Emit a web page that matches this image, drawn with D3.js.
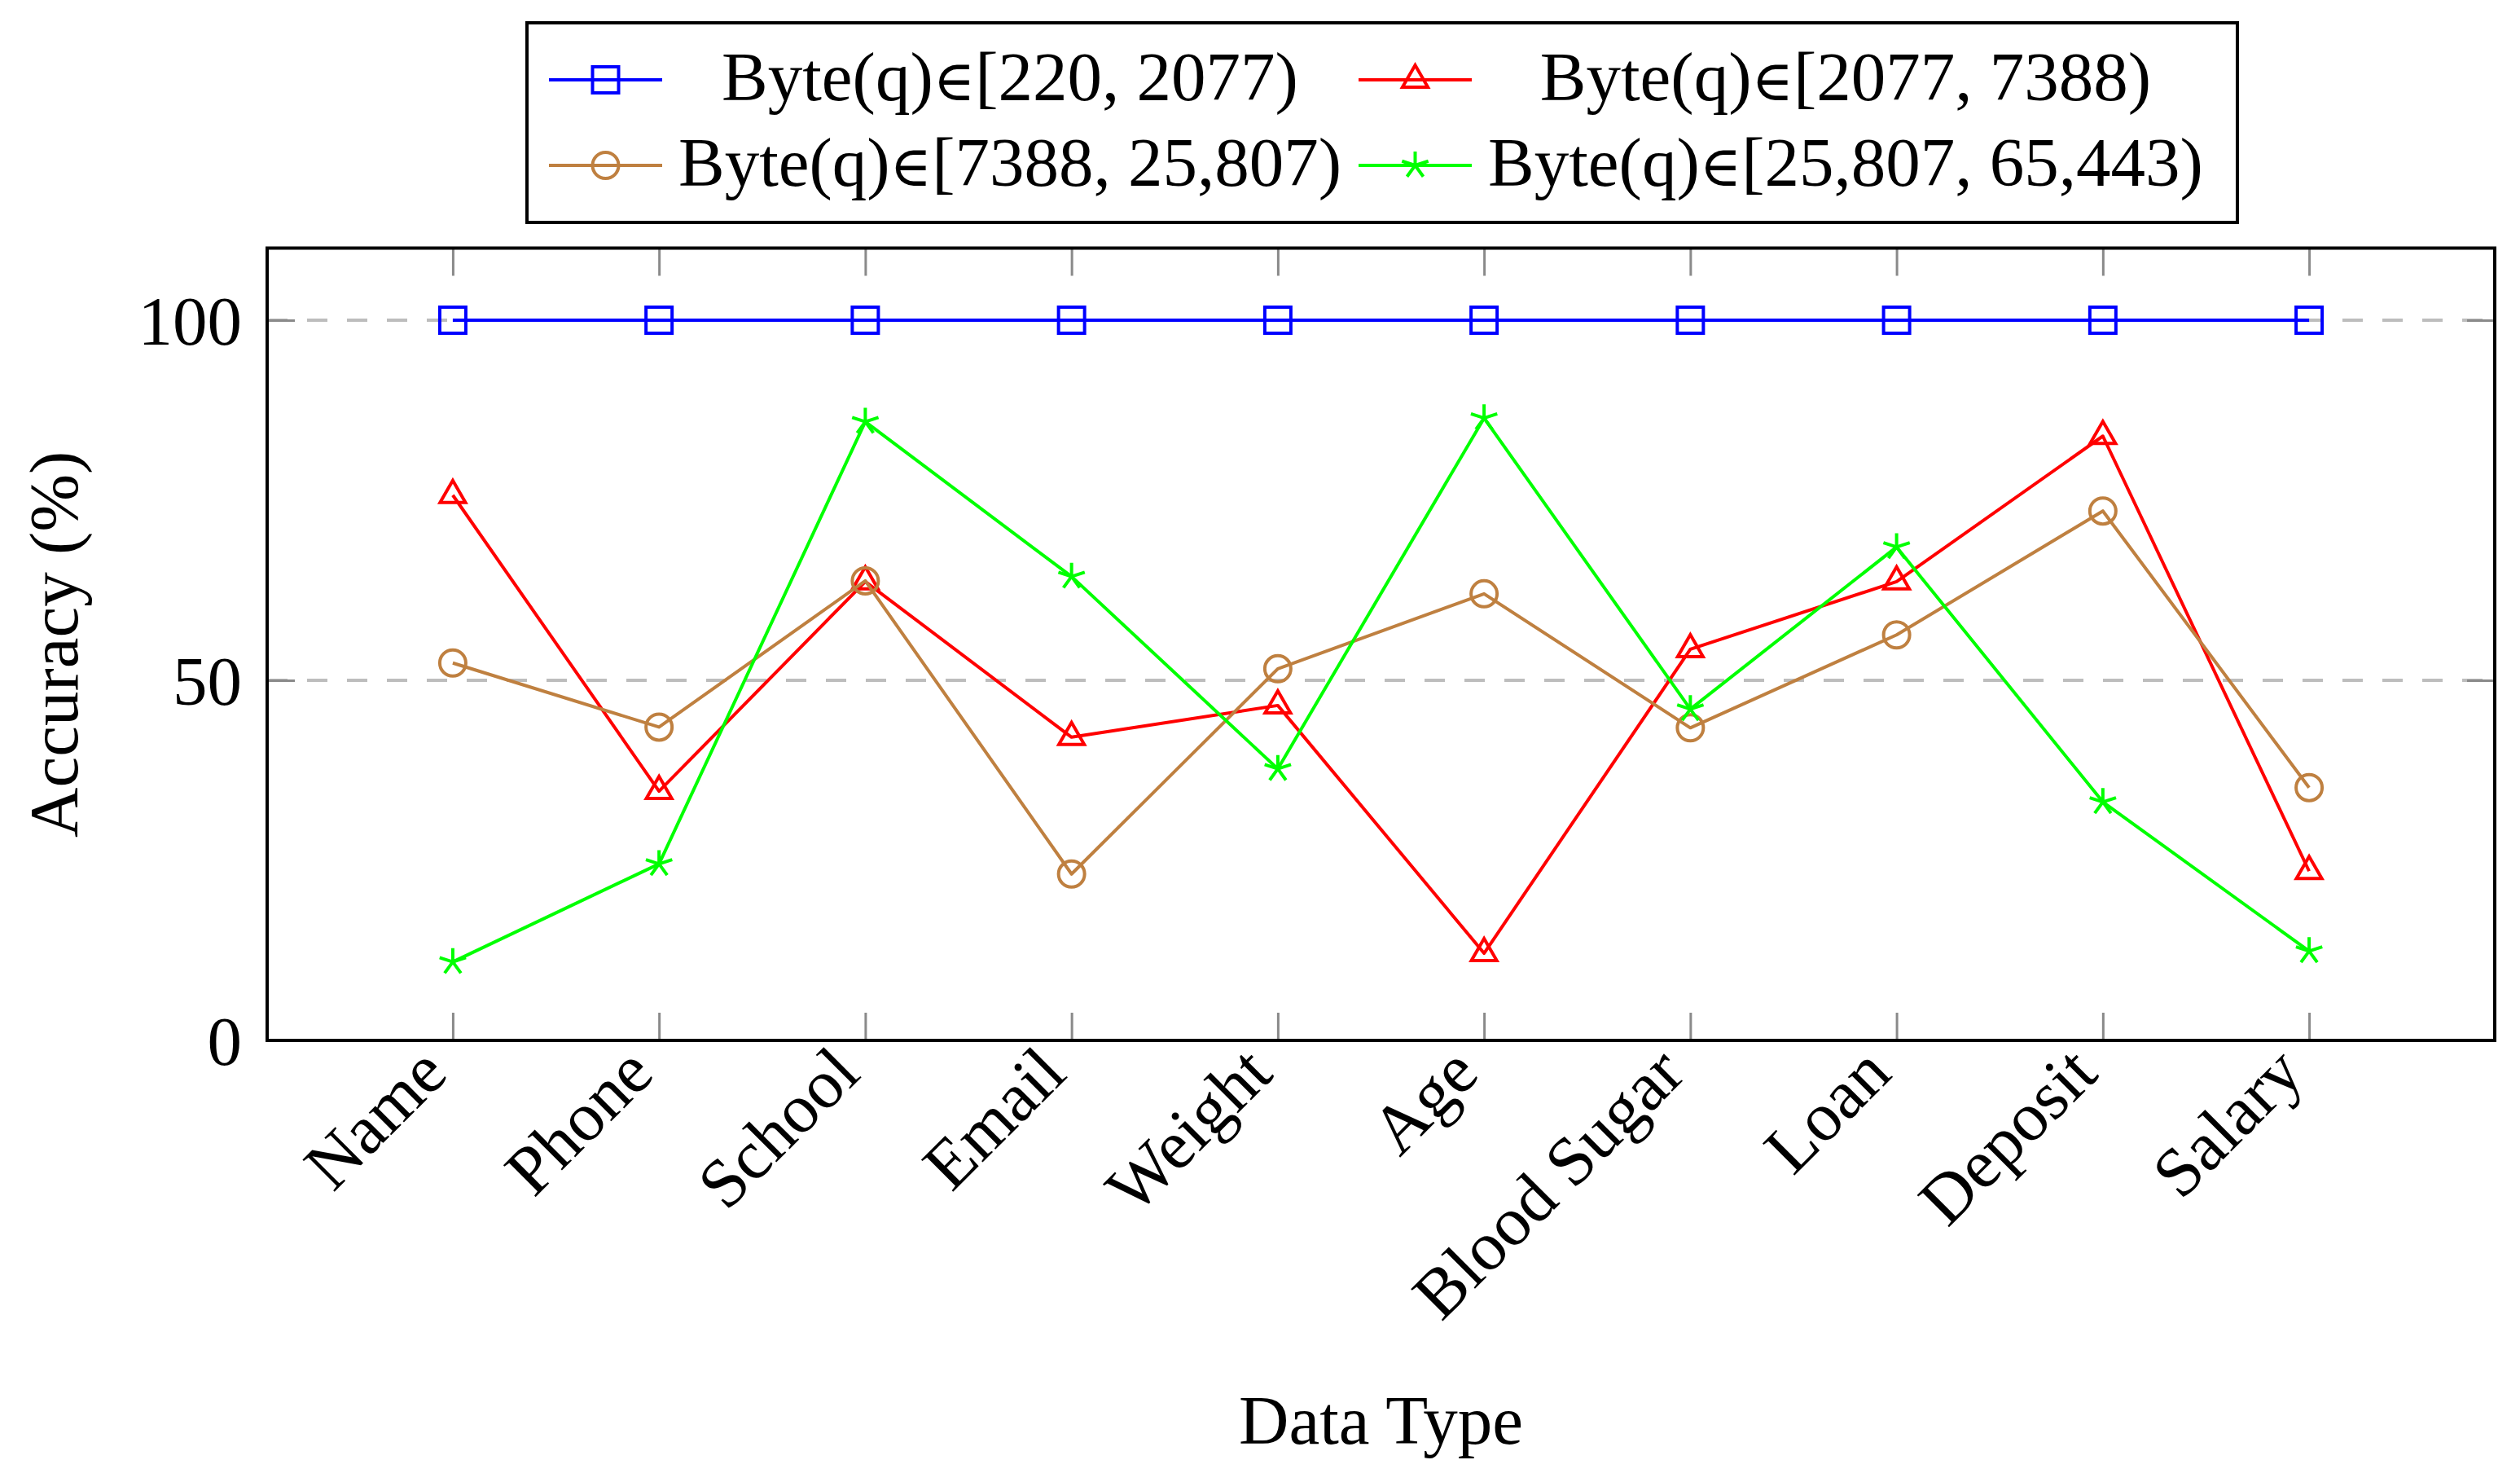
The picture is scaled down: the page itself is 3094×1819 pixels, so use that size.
<!DOCTYPE html>
<html>
<head>
<meta charset="utf-8">
<script src="https://cdn.jsdelivr.net/npm/d3@7"></script>
<style>
body { margin: 0; background: #fff; }
text { font-family: "Liberation Serif", "Times New Roman", serif; fill: #000; }
</style>
</head>
<body>
<script>
const categories = ['Name', 'Phone', 'School', 'Email', 'Weight', 'Age', 'Blood Sugar', 'Loan', 'Deposit', 'Salary'];

// accuracy (%) per byte range of q
const acc220 = [100, 100, 100, 100, 100, 100, 100, 100, 100, 100];
const acc2077 = [75.7, 34.6, 63.7, 42.1, 46.5, 12.1, 54.3, 63.7, 83.9, 23.5];
const acc7388 = [52.4, 43.5, 63.8, 23.1, 51.6, 62.0, 43.4, 56.3, 73.5, 35.1];
const acc25807 = [10.9, 24.5, 85.9, 64.4, 37.7, 86.4, 46.0, 68.5, 33.1, 12.4];

// legend labels: Byte(q) ∈ [lo, hi)
const rangeLabels = ['[220, 2077)', '[2077, 7388)', '[7388, 25,807)', '[25,807, 65,443)'];
const yTicks = [0, 50, 100];
const yMax = 110;

const width = 3094;
const height = 1819;
const plotLeft = 328, plotRight = 3063, plotTop = 304.5, plotBottom = 1277;
const fontSize = 85;

const series = [
    { range: rangeLabels[0], values: acc220, color: '#0000ff', mark: 'square' },
    { range: rangeLabels[1], values: acc2077, color: '#ff0000', mark: 'triangle' },
    { range: rangeLabels[2], values: acc7388, color: '#bf8040', mark: 'circle' },
    { range: rangeLabels[3], values: acc25807, color: '#00ff00', mark: 'star' }
];

const svg = d3.select('body')
    .append('svg')
    .attr('width', width)
    .attr('height', height);

const xScale = d3.scalePoint()
    .domain(categories)
    .range([plotLeft, plotRight])
    .padding(0.9);

const yScale = d3.scaleLinear()
    .domain([0, yMax])
    .range([plotBottom, plotTop]);

function starPath(r) {
    let p = '';
    for (let i = 0; i < 5; i++) {
        const a = -Math.PI / 2 + i * 2 * Math.PI / 5;
        p += `M0,0L${r * Math.cos(a)},${r * Math.sin(a)}`;
    }
    return p;
}

function markPath(mark) {
    if (mark === 'square') return d3.symbol(d3.symbolSquare, 32 * 32)();
    if (mark === 'triangle') return d3.symbol(d3.symbolTriangle, 1.299 * 18 * 18)();
    if (mark === 'circle') return d3.symbol(d3.symbolCircle, Math.PI * 16 * 16)();
    return starPath(17);
}

// dashed grid
svg.selectAll('.grid')
    .data(yTicks.filter(d => d > 0))
    .enter()
    .append('line')
    .attr('x1', plotLeft)
    .attr('x2', plotRight)
    .attr('y1', d => yScale(d))
    .attr('y2', d => yScale(d))
    .attr('stroke', '#bdbdbd')
    .attr('stroke-width', 4)
    .attr('stroke-dasharray', '25,24');

// axes with inward gray ticks
const xAxis = d3.axisBottom(xScale).tickSizeInner(-34).tickSizeOuter(0);
const xAxisTop = d3.axisTop(xScale).tickSizeInner(-34).tickSizeOuter(0).tickFormat('');
const yAxis = d3.axisLeft(yScale).tickValues(yTicks).tickSizeInner(-34).tickSizeOuter(0).tickPadding(31);
const yAxisRight = d3.axisRight(yScale).tickValues(yTicks).tickSizeInner(-34).tickSizeOuter(0).tickFormat('');

const gx = svg.append('g')
    .attr('transform', `translate(0, ${plotBottom})`)
    .call(xAxis);
svg.append('g')
    .attr('transform', `translate(0, ${plotTop})`)
    .call(xAxisTop);
const gy = svg.append('g')
    .attr('transform', `translate(${plotLeft}, 0)`)
    .call(yAxis);
svg.append('g')
    .attr('transform', `translate(${plotRight}, 0)`)
    .call(yAxisRight);

svg.selectAll('.domain').remove();
svg.selectAll('.tick line')
    .attr('stroke', '#8a8a8a')
    .attr('stroke-width', 3);

gx.selectAll('text')
    .attr('x', 0)
    .attr('y', 0)
    .attr('dy', 0)
    .attr('text-anchor', 'end')
    .attr('transform', 'translate(-4, 44) rotate(-45)')
    .style('font-size', fontSize + 'px')
    .style('font-family', '"Liberation Serif", serif')
    .attr('fill', '#000');

gy.selectAll('text')
    .attr('dy', '0.35em')
    .style('font-size', fontSize + 'px')
    .style('font-family', '"Liberation Serif", serif')
    .attr('fill', '#000');

// plot frame
svg.append('rect')
    .attr('x', plotLeft)
    .attr('y', plotTop)
    .attr('width', plotRight - plotLeft)
    .attr('height', plotBottom - plotTop)
    .attr('fill', 'none')
    .attr('stroke', '#000')
    .attr('stroke-width', 4);

const line = d3.line()
    .x((d, i) => xScale(categories[i]))
    .y(d => yScale(d));

series.forEach(s => {
    svg.append('path')
        .datum(s.values)
        .attr('d', line)
        .attr('fill', 'none')
        .attr('stroke', s.color)
        .attr('stroke-width', 4)
        .attr('stroke-linejoin', 'round');

    svg.selectAll(null)
        .data(s.values)
        .enter()
        .append('path')
        .attr('d', markPath(s.mark))
        .attr('transform', (d, i) => `translate(${xScale(categories[i])}, ${yScale(d)})`)
        .attr('fill', 'none')
        .attr('stroke', s.color)
        .attr('stroke-width', 4);
});

// axis titles
svg.append('text')
    .attr('x', (plotLeft + plotRight) / 2)
    .attr('y', 1772)
    .attr('text-anchor', 'middle')
    .style('font-size', fontSize + 'px')
    .text('Data Type');

svg.append('text')
    .attr('transform', `translate(95, ${(plotTop + plotBottom) / 2}) rotate(-90)`)
    .attr('text-anchor', 'middle')
    .style('font-size', fontSize + 'px')
    .text('Accuracy (%)');

// legend
const legend = svg.append('g');
legend.append('rect')
    .attr('x', 647)
    .attr('y', 28)
    .attr('width', 2100)
    .attr('height', 245)
    .attr('fill', '#fff')
    .attr('stroke', '#000')
    .attr('stroke-width', 4);

const colX = [674, 1668];
const colText = [1240, 2266];
const rowY = [98, 203];

series.forEach((s, i) => {
    const cx = colX[i % 2];
    const cy = rowY[Math.floor(i / 2)];
    legend.append('line')
        .attr('x1', cx)
        .attr('x2', cx + 139)
        .attr('y1', cy)
        .attr('y2', cy)
        .attr('stroke', s.color)
        .attr('stroke-width', 4);
    legend.append('path')
        .attr('d', markPath(s.mark))
        .attr('transform', `translate(${cx + 69.5}, ${cy})`)
        .attr('fill', 'none')
        .attr('stroke', s.color)
        .attr('stroke-width', 4);
    const t = legend.append('text')
        .attr('x', colText[i % 2])
        .attr('y', cy + 25)
        .attr('text-anchor', 'middle')
        .style('font-size', fontSize + 'px');
    t.append('tspan').text('Byte(q)');
    t.append('tspan')
        .style('font-family', '"DejaVu Serif", serif')
        .style('font-size', '0.82em')
        .text('\u2208');
    t.append('tspan').text(s.range);
});
</script>
</body>
</html>
